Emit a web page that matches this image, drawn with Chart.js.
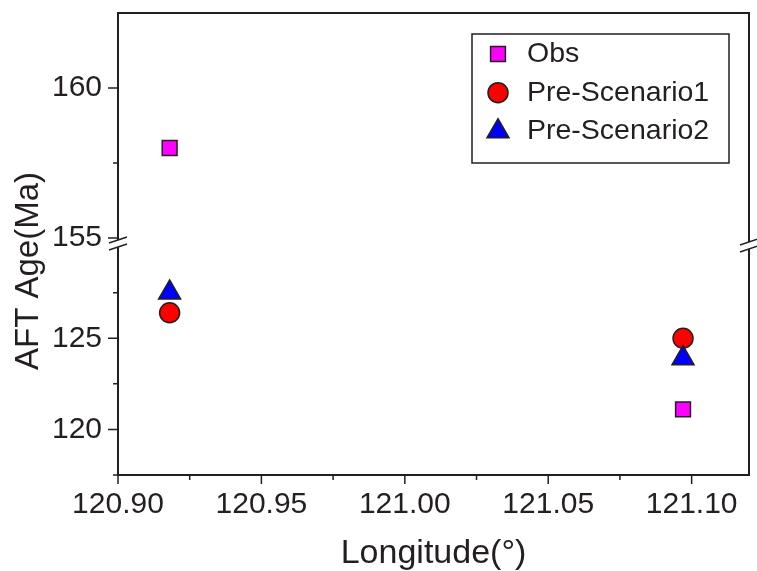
<!DOCTYPE html>
<html>
<head>
<meta charset="utf-8">
<title>AFT Age vs Longitude</title>
<script src="https://cdn.jsdelivr.net/npm/chart.js@4.4.0/dist/chart.umd.min.js"></script>
<style>
  html, body { margin: 0; padding: 0; background: #fff; overflow: hidden; }
  #ageChart { display: block; }
</style>
</head>
<body>
<canvas id="ageChart" width="757" height="571"></canvas>
<script>
// 经度
const longitudes = [120.918, 121.097];
// 观测年龄与两种情景预测年龄 (Ma)
const obsAge = [158.0, 121.1];
const scenario1Age = [126.4, 125.0];
const scenario2Age = [127.5, 123.9];

// 坐标轴范围与刻度 (Y 轴在 130.5 ~ 155 之间断开)
const xRange = [120.90, 121.12];
const xTicks = [120.90, 120.95, 121.00, 121.05, 121.10];
const xMinorTicks = [120.925, 120.975, 121.025, 121.075];
const lowRange = [117.5, 130.5];
const lowTicks = [120, 125];
const lowMinorTicks = [117.5, 122.5, 127.5];
const highRange = [155, 162.5];
const highTicks = [155, 160];
const highMinorTicks = [157.5];

const textColor = '#231f20';
const fontFamily = '"Liberation Sans", Arial, sans-serif';

const seriesList = [
    { label: 'Obs', values: obsAge, pointStyle: 'rect', color: '#ff00ff', radius: 10.5 },
    { label: 'Pre-Scenario1', values: scenario1Age, pointStyle: 'circle', color: '#ff0000', radius: 10 },
    { label: 'Pre-Scenario2', values: scenario2Age, pointStyle: 'triangle', color: '#0000ff', radius: 12.7 }
];

// 按断轴把每个系列拆到上下两个 Y 轴
function buildDatasets() {
    const datasets = [];
    seriesList.forEach((s, idx) => {
        const low = [], high = [];
        s.values.forEach((v, i) => {
            const p = { x: longitudes[i], y: v };
            if (v >= highRange[0]) high.push(p); else low.push(p);
        });
        [['yLow', low], ['yHigh', high]].forEach(([axis, pts]) => {
            if (!pts.length) return;
            datasets.push({
                label: s.label,
                data: pts,
                yAxisID: axis,
                pointStyle: s.pointStyle,
                pointRadius: s.radius,
                pointBackgroundColor: s.color,
                pointBorderColor: textColor,
                pointBorderWidth: 1.5,
                showLine: false,
                clip: false,
                order: seriesList.length - idx
            });
        });
    });
    return datasets;
}

// 去掉 Chart.js 为首尾刻度标签预留的边距
function noPadding(s) {
    s.paddingTop = 0;
    s.paddingBottom = 0;
    s.paddingLeft = 0;
    s.paddingRight = 0;
}

// 边框、次刻度、断轴符号、图例和 Y 轴标题
const decorPlugin = {
    id: 'decor',
    afterDraw(chart) {
        const { ctx, chartArea: a, scales } = chart;
        const x = scales.x, yLow = scales.yLow, yHigh = scales.yHigh;
        ctx.save();
        ctx.strokeStyle = textColor;
        ctx.lineWidth = 2;

        ctx.beginPath();
        ctx.moveTo(a.left, a.top);
        ctx.lineTo(a.right, a.top);
        ctx.lineTo(a.right, a.bottom);
        ctx.stroke();

        // 刻度线
        ctx.lineWidth = 1.5;
        ctx.beginPath();
        xTicks.forEach(v => { const px = x.getPixelForValue(v); ctx.moveTo(px, a.bottom); ctx.lineTo(px, a.bottom + 9); });
        xMinorTicks.forEach(v => { const px = x.getPixelForValue(v); ctx.moveTo(px, a.bottom); ctx.lineTo(px, a.bottom + 5); });
        [[yLow, lowTicks, 10], [yLow, lowMinorTicks, 5], [yHigh, highTicks, 10], [yHigh, highMinorTicks, 5]].forEach(([sc, vals, len]) => {
            vals.forEach(v => { const py = sc.getPixelForValue(v); ctx.moveTo(a.left, py); ctx.lineTo(a.left - len, py); });
        });
        ctx.stroke();

        // 断轴符号
        const by = yHigh.bottom;
        [[a.left, 2], [a.right, 4]].forEach(([bx, off]) => {
            ctx.fillStyle = '#fff';
            ctx.fillRect(bx - 2, by + off, 4, 7);
            ctx.beginPath();
            [off, off + 7].forEach(d => {
                ctx.moveTo(bx - 9, by + d + 3);
                ctx.lineTo(bx + 9, by + d - 3);
            });
            ctx.stroke();
        });

        // 图例
        ctx.lineWidth = 1.5;
        ctx.strokeRect(472, 34, 257, 129);
        ctx.font = '28.5px ' + fontFamily;
        ctx.textBaseline = 'middle';
        ctx.textAlign = 'left';
        seriesList.forEach((s, i) => {
            const ly = 54 + i * 38.7;
            ctx.fillStyle = s.color;
            ctx.strokeStyle = textColor;
            ctx.lineWidth = 1.5;
            Chart.helpers.drawPoint(ctx, { pointStyle: s.pointStyle, radius: s.radius, borderWidth: 1.5, rotation: 0 }, 498, ly);
            ctx.fillStyle = textColor;
            ctx.fillText(s.label, 527, ly);
        });

        // Y 轴标题
        ctx.translate(29, 271);
        ctx.rotate(-Math.PI / 2);
        ctx.textAlign = 'center';
        ctx.font = '33px ' + fontFamily;
        ctx.fillText('AFT Age(Ma)', 0, 0);
        ctx.restore();
    }
};

function yAxis(range, ticks, weight) {
    return {
        type: 'linear',
        position: 'left',
        stack: 'age',
        stackWeight: weight,
        min: range[0],
        max: range[1],
        afterBuildTicks: s => { s.ticks = ticks.map(v => ({ value: v })); },
        afterFit: s => { s.width = 118; noPadding(s); },
        grid: { display: false, drawTicks: false },
        border: { display: true, color: textColor, width: 2 },
        ticks: {
            padding: 16,
            color: textColor,
            font: { family: fontFamily, size: 30 },
            callback: v => String(v)
        }
    };
}

const ctx = document.getElementById('ageChart');
new Chart(ctx, {
    type: 'scatter',
    data: { datasets: buildDatasets() },
    plugins: [decorPlugin],
    options: {
        responsive: false,
        animation: false,
        events: [],
        layout: { autoPadding: false, padding: { top: 13, right: 8, left: 0, bottom: 0 } },
        plugins: {
            legend: { display: false },
            tooltip: { enabled: false }
        },
        scales: {
            x: {
                type: 'linear',
                min: xRange[0],
                max: xRange[1],
                afterBuildTicks: s => { s.ticks = xTicks.map(v => ({ value: v })); },
                afterFit: s => { s.height = 96; noPadding(s); },
                grid: { display: false, drawTicks: false },
                border: { display: true, color: textColor, width: 2 },
                ticks: {
                    padding: 12,
                    maxRotation: 0,
                    color: textColor,
                    font: { family: fontFamily, size: 30 },
                    callback: v => Number(v).toFixed(2)
                },
                title: {
                    display: true,
                    text: 'Longitude(°)',
                    color: textColor,
                    font: { family: fontFamily, size: 34, lineHeight: 1 },
                    padding: { top: 0, bottom: 0 }
                }
            },
            yLow: yAxis(lowRange, lowTicks, 237),
            yHigh: yAxis(highRange, highTicks, 225)
        }
    }
});
</script>
</body>
</html>
